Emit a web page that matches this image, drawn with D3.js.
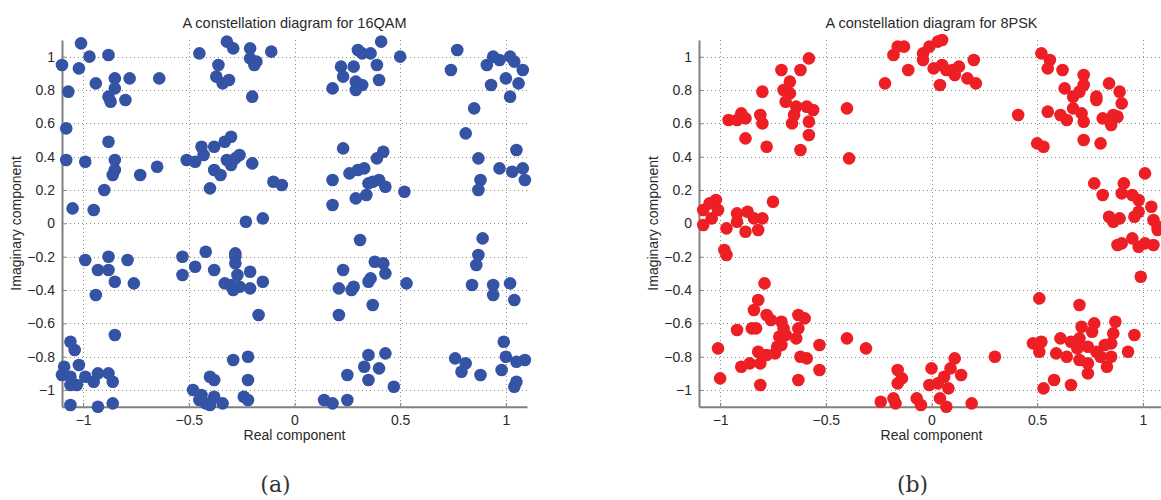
<!DOCTYPE html>
<html>
<head>
<meta charset="utf-8">
<script src="https://cdn.jsdelivr.net/npm/d3@7"></script>
<style>
  html, body { margin: 0; padding: 0; background: #fff; }
  svg { display: block; }
</style>
</head>
<body>
<svg id="chart" width="1161" height="500"></svg>
<script>
// ---------- DATA ----------
const titles = ["A constellation diagram for 16QAM", "A constellation diagram for 8PSK"];
const captions = ["(a)", "(b)"];
const xLabel = "Real component";
const yLabel = "Imaginary component";
const xTicks = [-1, -0.5, 0, 0.5, 1];
const yTicks = [-1, -0.8, -0.6, -0.4, -0.2, 0, 0.2, 0.4, 0.6, 0.8, 1];

// 16QAM received symbols (real, imaginary)
const qamRe = [
  -1.01,-1.10,-1.02,-0.97,-0.88,-1.07,-0.94,-0.85,-0.85,-0.88,-0.87,-0.80,-0.78,-0.64,
  -1.08,-1.08,-0.99,-0.88,-0.85,-0.85,-0.86,-0.90,-1.05,-0.95,-0.73,-0.65,
  -0.45,-0.32,-0.29,-0.36,-0.37,-0.34,-0.31,-0.21,-0.21,-0.18,-0.19,-0.11,-0.20,
  -0.51,-0.47,-0.44,-0.43,-0.38,-0.33,-0.30,-0.38,-0.35,-0.32,-0.30,-0.28,-0.26,-0.40,-0.20,-0.10,-0.06,-0.23,-0.15,
  0.41,0.30,0.32,0.36,0.39,0.50,0.22,0.28,0.23,0.29,0.32,0.29,0.18,0.40,
  0.77,0.74,0.91,0.94,0.97,1.02,1.04,1.08,1.00,1.06,0.93,1.02,0.85,
  0.23,0.18,0.26,0.30,0.33,0.39,0.42,0.35,0.37,0.40,0.43,0.34,0.29,0.18,0.52,
  0.81,0.87,0.88,0.87,0.97,1.05,1.03,1.08,1.09,
  -0.99,-0.88,-0.93,-0.88,-0.85,-0.79,-0.76,-0.94,-0.85,
  -1.06,-1.04,-1.09,-1.02,-1.10,-1.06,-1.06,-1.03,-0.99,-0.95,-0.93,-0.88,-0.86,-1.06,-0.93,-0.86,
  -0.53,-0.53,-0.47,-0.42,-0.38,-0.28,-0.28,-0.28,-0.27,-0.21,-0.15,-0.33,-0.29,-0.26,-0.21,-0.30,-0.17,
  -0.29,-0.22,-0.22,-0.40,-0.38,-0.48,-0.44,-0.45,-0.42,-0.40,-0.38,-0.34,-0.24,-0.22,
  0.31,0.23,0.38,0.42,0.43,0.36,0.35,0.21,0.28,0.27,0.53,0.37,0.21,
  0.89,0.87,0.86,0.84,0.94,0.94,1.02,1.04,
  0.35,0.43,0.33,0.40,0.25,0.35,0.47,0.14,0.18,0.25,
  0.99,0.76,0.81,0.79,0.88,1.00,0.98,1.05,1.09,1.05,1.04
];
const qamIm = [
  1.08,0.95,0.93,1.00,1.01,0.79,0.84,0.87,0.81,0.76,0.73,0.74,0.87,0.87,
  0.57,0.38,0.37,0.49,0.38,0.32,0.29,0.20,0.09,0.08,0.29,0.34,
  1.02,1.09,1.05,0.95,0.88,0.84,0.86,1.05,0.99,0.97,0.95,1.03,0.76,
  0.38,0.37,0.46,0.41,0.46,0.49,0.52,0.32,0.29,0.38,0.35,0.39,0.41,0.21,0.36,0.25,0.23,0.01,0.03,
  1.09,1.04,1.02,1.02,0.95,1.00,0.94,0.94,0.88,0.85,0.83,0.80,0.81,0.86,
  1.04,0.92,0.95,1.00,0.98,1.00,0.97,0.92,0.87,0.84,0.83,0.76,0.69,
  0.45,0.26,0.30,0.32,0.33,0.39,0.43,0.24,0.25,0.26,0.22,0.17,0.15,0.11,0.19,
  0.54,0.39,0.26,0.20,0.33,0.44,0.31,0.33,0.26,
  -0.22,-0.20,-0.28,-0.28,-0.35,-0.22,-0.36,-0.43,-0.67,
  -0.71,-0.76,-0.86,-0.85,-0.91,-0.92,-0.97,-0.97,-0.92,-0.95,-0.90,-0.90,-0.95,-1.09,-1.10,-1.08,
  -0.20,-0.31,-0.26,-0.17,-0.28,-0.18,-0.20,-0.24,-0.31,-0.29,-0.35,-0.36,-0.40,-0.38,-0.39,-0.37,-0.55,
  -0.82,-0.80,-0.94,-0.92,-0.94,-1.00,-1.03,-1.06,-1.08,-1.09,-1.04,-1.08,-1.04,-1.06,
  -0.10,-0.28,-0.23,-0.24,-0.30,-0.33,-0.35,-0.39,-0.38,-0.40,-0.36,-0.49,-0.55,
  -0.09,-0.19,-0.25,-0.37,-0.37,-0.43,-0.36,-0.46,
  -0.79,-0.78,-0.86,-0.87,-0.91,-0.94,-0.98,-1.06,-1.08,-1.06,
  -0.71,-0.81,-0.84,-0.89,-0.91,-0.80,-0.88,-0.83,-0.82,-0.95,-0.98
];

// 8PSK received symbols (real, imaginary)
const pskRe = [
  -0.96,-0.92,-0.90,-0.88,-0.88,-0.80,-0.81,-0.80,-0.78,-0.71,-0.62,-0.58,-0.67,-0.70,-0.67,-0.69,-0.64,-0.65,-0.66,-0.59,-0.56,-0.58,-0.58,-0.62,-0.40,-0.39,
  -0.22,-0.18,-0.16,-0.13,-0.11,-0.04,-0.04,-0.01,0.03,0.05,0.01,0.05,0.07,0.10,0.13,0.04,0.11,0.17,0.21,0.20,
  0.52,0.56,0.55,0.62,0.72,0.84,0.89,0.90,0.63,0.67,0.70,0.72,0.78,0.78,0.55,0.61,0.64,0.67,0.71,0.72,0.81,0.85,0.86,0.88,0.41,0.50,0.53,0.72,0.80,
  1.01,0.77,0.81,0.91,0.90,0.95,0.98,1.04,0.98,0.96,0.84,0.89,0.86,1.05,1.07,1.07,0.88,0.90,0.95,0.98,1.01,1.05,0.99,
  -1.08,-1.05,-1.02,-1.01,-1.04,-1.08,-0.97,-0.92,-0.92,-0.87,-0.84,-0.80,-0.75,-0.88,-0.82,-0.98,-0.97,
  -0.79,-0.82,-0.84,-0.78,-0.76,-0.92,-0.85,-0.83,-1.01,-1.00,-0.71,-0.70,-0.72,-0.69,-0.63,-0.64,-0.63,-0.60,-0.73,-0.71,-0.74,-0.78,-0.82,-0.81,-0.86,-0.90,-0.81,-0.62,-0.59,-0.63,-0.53,-0.53,-0.40,-0.31,
  -0.16,-0.14,-0.16,-0.24,-0.18,-0.17,0.00,-0.01,0.03,0.06,0.08,0.04,0.07,-0.07,-0.05,0.09,0.11,0.14,0.19,0.30,
  0.51,0.70,0.48,0.52,0.51,0.61,0.66,0.71,0.77,0.76,0.70,0.69,0.74,0.59,0.64,0.70,0.74,0.78,0.80,0.85,0.83,0.82,0.85,0.86,0.87,0.93,0.96,0.74,0.66,0.58,0.53
];
const pskIm = [
  0.62,0.62,0.66,0.63,0.51,0.79,0.65,0.60,0.46,0.92,0.92,0.99,0.85,0.80,0.78,0.73,0.70,0.65,0.60,0.70,0.68,0.61,0.53,0.44,0.69,0.39,
  0.84,1.01,1.06,1.06,0.92,0.98,1.02,1.06,1.09,1.10,0.93,0.95,0.92,0.92,0.94,0.83,0.89,0.87,0.84,0.98,
  1.02,0.98,0.93,0.92,0.89,0.84,0.79,0.72,0.81,0.76,0.79,0.83,0.76,0.74,0.67,0.65,0.62,0.69,0.66,0.61,0.63,0.59,0.65,0.64,0.65,0.48,0.46,0.50,0.48,
  0.30,0.24,0.17,0.24,0.18,0.17,0.14,0.10,0.07,0.04,0.04,0.03,0.01,0.02,-0.02,-0.04,-0.13,-0.12,-0.09,-0.14,-0.12,-0.13,-0.32,
  0.08,0.12,0.14,0.08,0.03,-0.01,-0.03,0.06,0.01,0.07,0.03,0.03,0.13,-0.05,-0.04,-0.16,-0.19,
  -0.36,-0.46,-0.52,-0.55,-0.58,-0.64,-0.63,-0.63,-0.75,-0.93,-0.59,-0.63,-0.68,-0.67,-0.63,-0.69,-0.55,-0.57,-0.74,-0.73,-0.78,-0.79,-0.77,-0.84,-0.84,-0.86,-0.97,-0.80,-0.81,-0.94,-0.73,-0.88,-0.69,-0.75,
  -0.88,-0.93,-0.96,-1.07,-1.05,-1.08,-0.87,-0.97,-0.96,-0.92,-0.99,-1.05,-1.10,-1.05,-1.09,-0.87,-0.81,-0.91,-1.08,-0.80,
  -0.45,-0.49,-0.72,-0.71,-0.77,-0.69,-0.71,-0.62,-0.60,-0.65,-0.69,-0.75,-0.74,-0.78,-0.80,-0.82,-0.84,-0.77,-0.80,-0.80,-0.86,-0.73,-0.72,-0.66,-0.59,-0.77,-0.67,-0.90,-0.97,-0.94,-0.99
];

// ---------- DRAW ----------
const svg = d3.select("#chart");
const SANS = "'Liberation Sans', Arial, Helvetica, sans-serif";
const SERIF = "'DejaVu Serif', 'Liberation Serif', serif";
const TEXT = "#2a2a2a";

const panels = [
  { re: qamRe, im: qamIm, color: "#3553a5", left: 62,  title: titles[0], caption: captions[0] },
  { re: pskRe, im: pskIm, color: "#ed1f25", left: 699, title: titles[1], caption: captions[1] }
];

const plotW = 465, plotTop = 40, plotBottom = 406.7;

panels.forEach(p => {
  const x = d3.scaleLinear().domain([-1.1, 1.1]).range([p.left, p.left + plotW]);
  const y = d3.scaleLinear().domain([-1.1, 1.1]).range([plotBottom, plotTop]);
  const g = svg.append("g");

  // dotted grid
  const grid = g.append("g").attr("stroke", "#8c8c8c").attr("stroke-width", 1)
    .attr("stroke-dasharray", "1,3").attr("fill", "none");
  grid.selectAll("line.gx").data(xTicks).join("line").attr("class", "gx")
    .attr("x1", d => Math.round(x(d)) + 0.5).attr("x2", d => Math.round(x(d)) + 0.5)
    .attr("y1", plotTop).attr("y2", plotBottom);
  grid.selectAll("line.gy").data(yTicks).join("line").attr("class", "gy")
    .attr("y1", d => Math.round(y(d)) + 0.5).attr("y2", d => Math.round(y(d)) + 0.5)
    .attr("x1", p.left).attr("x2", p.left + plotW);

  // axes
  const fmt = d => d3.format("")(d);
  const xAxis = d3.axisBottom(x).tickValues(xTicks).tickFormat(fmt)
    .tickSizeInner(-4).tickSizeOuter(0).tickPadding(8);
  const yAxis = d3.axisLeft(y).tickValues(yTicks).tickFormat(fmt)
    .tickSizeInner(-4).tickSizeOuter(0).tickPadding(7);

  const gx = g.append("g").attr("transform", `translate(0,${plotBottom})`).call(xAxis);
  const gy = g.append("g").attr("transform", `translate(${p.left},0)`).call(yAxis);
  [gx, gy].forEach(a => {
    a.attr("font-family", null).attr("font-size", null);
    a.select(".domain").attr("stroke", "#808080").attr("stroke-width", 2);
    a.selectAll(".tick line").attr("stroke", "#808080").attr("stroke-width", 1);
    a.selectAll(".tick text").style("font-size", "14px")
      .style("font-family", SANS).style("fill", TEXT);
  });

  // points
  g.append("g").selectAll("circle").data(p.re.map((r, i) => [r, p.im[i]])).join("circle")
    .attr("cx", d => x(d[0])).attr("cy", d => y(d[1])).attr("r", 6.3)
    .attr("fill", p.color);

  const cx = x(0);
  const lab = sel => sel.style("font-family", SANS).style("fill", TEXT);
  // title
  g.append("text").attr("x", cx).attr("y", 28).attr("text-anchor", "middle")
    .style("font-size", "14.5px").call(lab).text(p.title);
  // x label
  g.append("text").attr("x", cx).attr("y", 440).attr("text-anchor", "middle")
    .style("font-size", "14px").call(lab).text(xLabel);
  // y label
  g.append("text").attr("transform", `translate(${p.left - 41},${y(0)}) rotate(-90)`)
    .attr("text-anchor", "middle").style("font-size", "14px").call(lab).text(yLabel);
  // caption
  g.append("text").attr("x", cx - 19).attr("y", 492).attr("text-anchor", "middle")
    .style("font-family", SERIF).style("font-size", "22px").style("fill", "#333")
    .text(p.caption);
});
</script>
</body>
</html>
